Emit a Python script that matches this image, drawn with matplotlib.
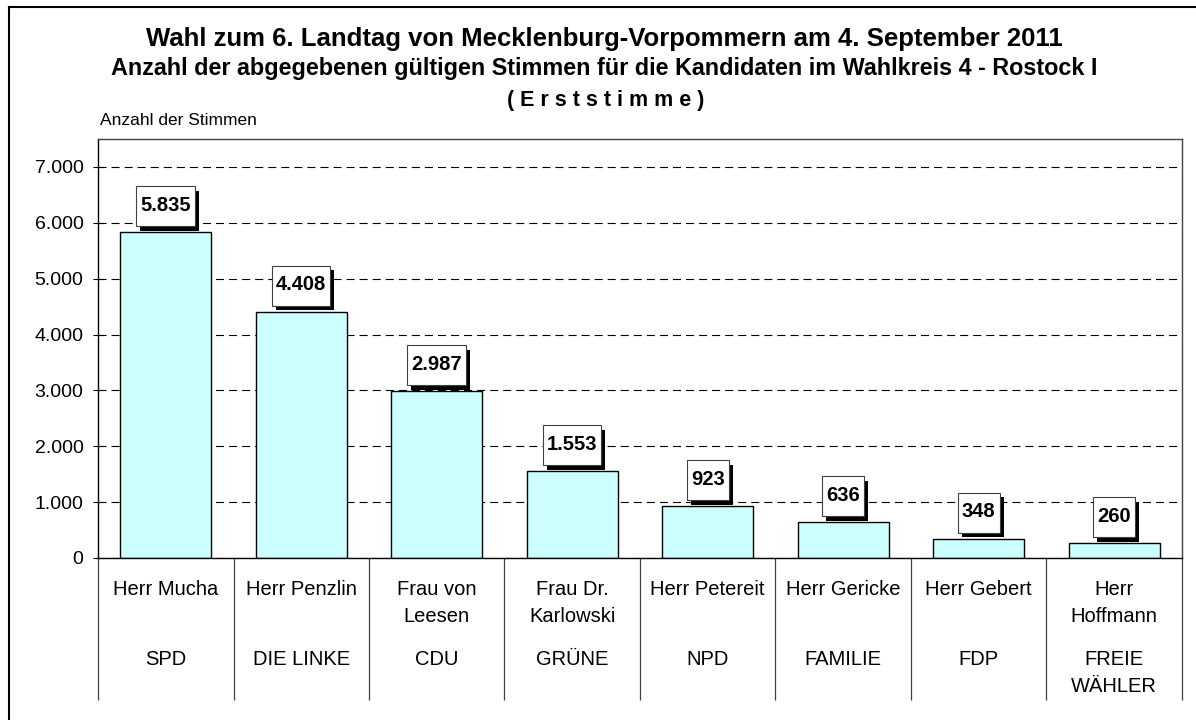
import numpy as np
import matplotlib
matplotlib.use('Agg')
import matplotlib.pyplot as plt
from matplotlib.patches import Rectangle
from matplotlib.transforms import IdentityTransform
from matplotlib.lines import Line2D
from matplotlib.ticker import FuncFormatter, FixedLocator

# ---------------- data ----------------
candidates = ['Herr Mucha', 'Herr Penzlin', 'Frau von\nLeesen', 'Frau Dr.\nKarlowski',
              'Herr Petereit', 'Herr Gericke', 'Herr Gebert', 'Herr\nHoffmann']
parties = ['SPD', 'DIE LINKE', 'CDU', 'GRÜNE', 'NPD', 'FAMILIE', 'FDP', 'FREIE\nWÄHLER']
votes = [5835, 4408, 2987, 1553, 923, 636, 348, 260]
y_ticks = [0, 1000, 2000, 3000, 4000, 5000, 6000, 7000]
y_max = 7500

title = 'Wahl zum 6. Landtag von Mecklenburg-Vorpommern am 4. September 2011'
subtitle = 'Anzahl der abgegebenen gültigen Stimmen für die Kandidaten im Wahlkreis 4 - Rostock I'
subtitle2 = '( E r s t s t i m m e )'
y_label = 'Anzahl der Stimmen'

# ---------------- style ----------------
plt.rcParams['font.family'] = ['Liberation Sans', 'DejaVu Sans']
plt.rcParams['lines.scale_dashes'] = False

W, H = 1196, 720
fig = plt.figure(figsize=(W / 100, H / 100), dpi=100)
fig.patch.set_facecolor('white')

ax_left, ax_right, ax_top, ax_bottom = 98, 1182, 139, 558
ax = fig.add_axes([ax_left / W, (H - ax_bottom) / H,
                   (ax_right - ax_left) / W, (ax_bottom - ax_top) / H])

def fmt_thousands(v, pos=None):
    return f'{int(v):,}'.replace(',', '.')

x = np.arange(len(votes))
ax.bar(x, votes, width=0.67, color='#CCFFFF', edgecolor='black', linewidth=1.0, zorder=2)
ax.set_xlim(-0.5, len(votes) - 0.5)
ax.set_ylim(0, y_max)

ax.yaxis.set_major_locator(FixedLocator(y_ticks))
ax.yaxis.set_major_formatter(FuncFormatter(fmt_thousands))
ax.grid(axis='y', color='black', linestyle=(0, (5.8, 3.6)), linewidth=0.8, zorder=1)
ax.set_axisbelow(True)

ax.tick_params(axis='y', which='major', direction='inout', length=7, width=0.8,
               labelsize=14, pad=7, colors='black')
ax.set_xticks([])
ax.set_xticks(np.arange(-0.5, len(votes), 1.0), minor=True)
ax.tick_params(axis='x', which='minor', direction='out', length=102, width=0.9,
               color='#404040', labelbottom=False)

for side in ['left', 'bottom']:
    ax.spines[side].set_color('black')
    ax.spines[side].set_linewidth(1.0)
for side in ['top', 'right']:
    ax.spines[side].set_color('#404040')
    ax.spines[side].set_linewidth(1.0)

# category labels
for i, (name, party) in enumerate(zip(candidates, parties)):
    ax.annotate(name, xy=(i, 0), xycoords=('data', 'axes fraction'),
                xytext=(0, -22), textcoords='offset pixels',
                ha='center', va='top', fontsize=14.5, linespacing=1.5)
    ax.annotate(party, xy=(i, 0), xycoords=('data', 'axes fraction'),
                xytext=(0, -92), textcoords='offset pixels',
                ha='center', va='top', fontsize=14.5, linespacing=1.5)

# value labels with boxes and shadows
texts = []
for i, v in enumerate(votes):
    t = ax.annotate(fmt_thousands(v), xy=(i, v), xycoords='data',
                    xytext=(0, 27), textcoords='offset pixels',
                    ha='center', va='center', fontsize=14.5, fontweight='bold', zorder=6)
    texts.append(t)

fig.canvas.draw()
renderer = fig.canvas.get_renderer()
for i, (t, v) in enumerate(zip(texts, votes)):
    bb = t.get_window_extent(renderer)
    px, py = ax.transData.transform((i, v))
    bw = bb.width + 8
    bh = 40
    x0 = (bb.x0 + bb.x1) / 2 - bw / 2
    y0 = py + 6
    shadow = Rectangle((x0 + 4, y0 - 4.5), bw, bh, transform=IdentityTransform(),
                       facecolor='black', edgecolor='none', zorder=4, clip_on=False)
    box = Rectangle((x0, y0), bw, bh, transform=IdentityTransform(),
                    facecolor='white', edgecolor='#404040', linewidth=0.8,
                    zorder=5, clip_on=False)
    ax.add_patch(shadow)
    ax.add_patch(box)

# titles
fig.text(604 / W, 1 - 46 / H, title, ha='center', va='baseline',
         fontsize=18.5, fontweight='bold')
fig.text(604.5 / W, 1 - 75 / H, subtitle, ha='center', va='baseline',
         fontsize=16.8, fontweight='bold')
fig.text(606 / W, 1 - 106 / H, subtitle2, ha='center', va='baseline',
         fontsize=15.5, fontweight='bold')
fig.text(100 / W, 1 - 125 / H, y_label, ha='left', va='baseline', fontsize=12.5)

# outer frame (left and top edges visible)
fig.add_artist(Line2D([9 / W, 9 / W], [0, 1 - 7 / H], transform=fig.transFigure,
                      color='black', linewidth=1.5))
fig.add_artist(Line2D([9 / W, 1], [1 - 7 / H, 1 - 7 / H], transform=fig.transFigure,
                      color='black', linewidth=1.5))

fig.savefig('out.png', dpi=100, facecolor='white')
